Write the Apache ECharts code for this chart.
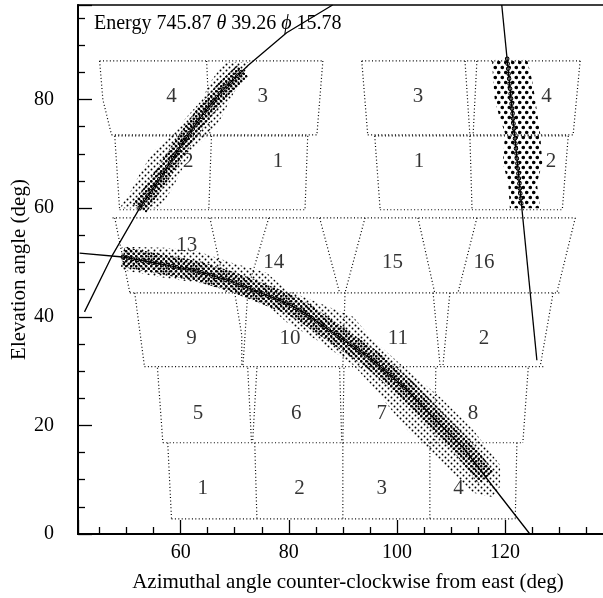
<!DOCTYPE html>
<html><head><meta charset="utf-8">
<script src="https://cdn.jsdelivr.net/npm/echarts@6/dist/echarts.min.js"></script>
<style>html,body{margin:0;padding:0;background:#fff}#c{width:603px;height:598px}</style>
</head><body><div id="c"></div>
<script>
// ---------- data ----------
const titleText = 'Energy 745.87 {i|θ} 39.26 {i|ϕ} 15.78';
const xAxisName = 'Azimuthal angle counter-clockwise from east (deg)';
const yAxisName = 'Elevation angle (deg)';
const xRange = [41, 138.5];
const yRange = [0, 97.4];

// detector cell outlines (dotted polylines), one array per row
const rowA = [
  [[45.0,87.1],[86.3,87.1]], [[47.2,73.5],[85.2,73.5]],
  [[45.0,87.1],[45.6,80.0],[47.2,73.5]], [[64.8,87.1],[65.4,73.5]], [[86.3,87.1],[85.2,73.5]],
  [[93.5,87.1],[133.9,87.1]], [[94.6,73.5],[132.6,73.5]],
  [[93.5,87.1],[94.6,73.5]], [[112.6,87.1],[113.5,73.5]], [[114.8,87.1],[114.1,73.5]], [[133.9,87.1],[132.6,73.5]]
];
const rowB = [
  [[47.8,73.3],[83.5,73.3]], [[48.7,59.7],[83.0,59.7]],
  [[47.8,73.3],[48.7,59.7]], [[65.7,73.3],[65.2,59.7]], [[83.5,73.3],[83.0,59.7]],
  [[95.9,73.3],[131.7,73.3]], [[96.9,59.7],[130.6,59.7]],
  [[95.9,73.3],[96.9,59.7]], [[113.5,73.3],[113.9,59.7]], [[131.7,73.3],[130.6,59.7]]
];
const rowC = [
  [[47.4,58.2],[133.0,58.2]], [[50.6,44.4],[130.2,44.4]],
  [[47.8,58.2],[50.6,44.4]], [[65.4,58.2],[66.9,51.2],[68.5,44.4]],
  [[76.3,58.2],[72.2,44.4]], [[85.7,58.2],[89.4,44.4]],
  [[94.1,58.2],[90.4,44.4]], [[103.9,58.2],[107.0,44.4]],
  [[114.8,58.2],[111.3,44.4]], [[133.0,58.2],[129.6,44.4]]
];
const rowD = [
  [[53.3,30.8],[127.4,30.8]],
  [[51.5,44.4],[53.3,30.8]], [[70.0,44.4],[71.3,36.6],[71.3,30.8]], [[72.4,44.4],[71.9,36.6],[71.5,30.8]],
  [[90.4,44.4],[90.0,30.8]], [[106.7,44.4],[108.0,30.8]], [[109.8,44.4],[108.5,30.8]], [[128.9,44.4],[126.5,30.8]]
];
const rowE = [
  [[56.7,16.8],[123.3,16.8]],
  [[55.7,30.6],[56.7,16.8]], [[72.4,30.6],[73.1,16.8]], [[74.1,30.6],[73.3,16.8]],
  [[89.4,30.6],[89.8,16.8]], [[90.2,30.6],[90.0,16.8]], [[107.2,30.6],[107.0,16.8]], [[124.3,30.6],[123.3,16.8]]
];
const rowF = [
  [[58.3,2.8],[121.9,2.8]],
  [[57.6,16.8],[58.3,2.8]], [[73.7,16.8],[74.1,2.8]], [[90.0,16.8],[90.0,2.8]],
  [[106.1,16.8],[106.1,2.8]], [[122.2,16.8],[121.9,2.8]]
];

// cell numbers [x, y, text]
const cellLabels = [
  [58.3,80.5,'4'],[75.2,80.5,'3'],[103.9,80.5,'3'],[127.7,80.5,'4'],
  [61.4,68.6,'2'],[78.0,68.6,'1'],[104.1,68.6,'1'],[128.5,68.6,'2'],
  [61.1,53.2,'13'],[77.2,50.0,'14'],[99.2,50.0,'15'],[116.1,50.0,'16'],
  [62.0,36.0,'9'],[80.2,36.0,'10'],[100.2,36.0,'11'],[116.1,36.0,'2'],
  [63.2,22.2,'5'],[81.4,22.2,'6'],[97.2,22.2,'7'],[114.1,22.2,'8'],
  [64.1,8.3,'1'],[82.0,8.3,'2'],[97.2,8.3,'3'],[111.4,8.3,'4']
];

// fitted track curves (solid lines)
const curve1 = [[42.2,40.9],[47.4,51.4],[52.4,60.0],[56.5,66.0],[60.4,72.0],[64.1,77.3],[68.0,82.0],[72.5,86.3],[79.6,92.3],[88.1,97.4]];
const curve2 = [[41.3,51.7],[49.3,51.0],[57.4,49.5],[63.5,48.3],[69.6,46.4],[73.3,45.0],[79.6,42.5],[82.6,40.9],[88.9,36.6],[95.6,32.0],[101.9,26.5],[106.7,21.5],[112.2,16.0],[117.8,8.7],[124.6,0]];
const curve3 = [[119.4,97.4],[125.9,32.0]];

// hit-cloud outlines of the three tracks
const bandA = [[48.7,60.0],[50.9,63.4],[52.8,67.0],[55.2,70.7],[58.7,73.8],[61.1,76.8],[63.9,79.9],[65.4,83.1],[68.1,86.9],[72.8,86.9],[70.9,83.1],[69.1,79.9],[67.6,76.8],[65.5,73.8],[62.2,70.7],[60.2,67.0],[58.3,63.4],[56.1,60.0]];
const bandB = [[49.1,52.9],[57.4,52.7],[63.5,51.9],[69.6,49.9],[75.9,48.1],[79.6,44.9],[85.7,42.5],[91.9,40.0],[95.6,35.7],[101.9,30.2],[108.0,25.2],[114.1,19.2],[119.1,12.7],[119.1,8.7],[117.6,6.8],[114.1,7.6],[108.0,13.6],[101.9,19.2],[95.6,27.1],[91.9,31.1],[85.7,35.4],[79.6,39.0],[75.9,42.2],[69.6,44.6],[63.5,46.2],[57.4,47.1],[49.1,48.6]];
const bandC = [[117.6,87.3],[117.8,83.6],[118.1,80.0],[118.9,77.0],[120.0,73.8],[119.6,68.3],[120.6,64.6],[120.9,60.0],[126.5,60.0],[125.9,64.6],[126.9,68.3],[126.5,73.8],[125.6,80.0],[125.0,83.6],[124.1,87.3]];

// dense cores and open-circle chains along the tracks
const coreA = [[52.4,60.0],[56.5,66.0],[60.4,72.0],[64.1,77.3],[68.0,82.0],[71.5,85.3]];
const denseB = [[49.3,51.0],[57.4,49.5],[63.5,48.3],[69.6,46.4],[73.3,45.0],[79.6,42.5],[82.6,40.9],[88.9,36.6],[95.6,32.0],[101.9,26.5],[106.7,21.5],[112.2,16.0],[116.5,10.4]];
const chainB = [[49.3,51.0],[57.4,49.5],[63.5,48.3],[69.6,46.4],[73.3,45.0],[79.6,42.5],[82.6,40.9],[88.9,36.6],[95.6,32.0],[101.9,26.5]];
const coreC = [[120.4,87.5],[123.1,60.0]];

// ---------- rendering ----------
const FONT = '"Liberation Serif", "Times New Roman", serif';
function dotPattern(w, h, r, pts) {
  const c = document.createElement('canvas'); c.width = w; c.height = h;
  const ctx = c.getContext('2d'); ctx.fillStyle = '#000';
  pts.forEach(p => { ctx.beginPath(); ctx.arc(p[0], p[1], r, 0, Math.PI * 2); ctx.fill(); });
  return { image: c, repeat: 'repeat' };
}
const patSmall = dotPattern(6, 6, 0.95, [[1.5,1.5],[4.5,4.5]]);
const patMed = dotPattern(5, 5, 1.3, [[1.25,1.25],[3.75,3.75]]);
const patBig = dotPattern(7, 10, 1.8, [[1.75,2.5],[5.25,7.5]]);

function lineS(points, style, z) {
  return { type: 'line', data: points, symbol: 'none', showSymbol: false, silent: true,
    animation: false, z: z, lineStyle: style, emphasis: { disabled: true } };
}
function polyS(points, fill, z) {
  return { type: 'custom', coordinateSystem: 'cartesian2d', silent: true, animation: false, z: z,
    data: [points[0]],
    renderItem: (params, api) => ({ type: 'polygon',
      shape: { points: points.map(p => api.coord(p)) }, style: { fill: fill, stroke: null } }) };
}
function strokeS(points, stroke, width, z) {
  return { type: 'custom', coordinateSystem: 'cartesian2d', silent: true, animation: false, z: z,
    data: [points[0]],
    renderItem: (params, api) => ({ type: 'polyline',
      shape: { points: points.map(p => api.coord(p)) },
      style: { fill: null, stroke: stroke, lineWidth: width, lineJoin: 'round', lineCap: 'butt' } }) };
}

const series = [];
const dotted = { color: '#000', width: 1.2, type: [1, 2.4] };
[rowA, rowB, rowC, rowD, rowE, rowF].forEach(row => row.forEach(pl => series.push(lineS(pl, dotted, 2))));
series.push(polyS(bandA, patSmall, 3), polyS(bandB, patSmall, 3), polyS(bandC, patBig, 3));
series.push(strokeS(coreA, patMed, 16, 4), strokeS(denseB, patMed, 20, 4));
const ringOuter = { color: '#000', width: 4.6, type: [0.01, 5], cap: 'round' };
const ringInner = { color: '#fff', width: 2.5, type: [0.01, 5], cap: 'round' };
[coreA, chainB, coreC].forEach(c => { series.push(lineS(c, ringOuter, 5)); series.push(lineS(c, ringInner, 6)); });
const solid = { color: '#000', width: 1.3 };
series.push(lineS(curve1, solid, 7), lineS(curve2, solid, 7), lineS(curve3, solid, 7));
series.push({
  type: 'scatter', silent: true, animation: false, z: 8, symbolSize: 1,
  itemStyle: { color: 'rgba(0,0,0,0)' },
  data: cellLabels.map(d => ({ value: [d[0], d[1]], name: d[2] })),
  label: { show: true, position: 'inside', formatter: '{b}', fontFamily: FONT, fontSize: 21, color: '#000' }
});

const tickLine = { color: '#000', width: 1.3 };
const option = {
  backgroundColor: '#fff',
  animation: false,
  title: {
    text: titleText, left: 94, top: 14, padding: 0,
    textStyle: { fontFamily: FONT, fontSize: 20, fontWeight: 'normal', color: '#000',
      rich: { i: { fontFamily: FONT, fontSize: 20, fontStyle: 'italic', color: '#000' } } }
  },
  grid: { left: 78, right: -2, top: 5, bottom: 64, show: true, borderColor: '#000', borderWidth: 1.5,
    backgroundColor: 'transparent', containLabel: false, outerBoundsMode: 'none' },
  xAxis: {
    type: 'value', min: xRange[0], max: xRange[1], minInterval: 20, maxInterval: 20,
    axisLine: { show: true, onZero: false, lineStyle: { color: '#000', width: 2 } },
    axisTick: { show: true, inside: true, length: 14, lineStyle: tickLine },
    minorTick: { show: true, splitNumber: 4, length: 7, lineStyle: tickLine },
    splitLine: { show: false }, minorSplitLine: { show: false },
    axisLabel: { margin: 9, showMinLabel: false, showMaxLabel: false, fontFamily: FONT, fontSize: 20, color: '#000' },
    name: xAxisName, nameLocation: 'middle', nameGap: 38, nameMoveOverlap: false,
    nameTextStyle: { fontFamily: FONT, fontSize: 21, color: '#000', padding: [0, 0, 0, 13] }
  },
  yAxis: {
    type: 'value', min: yRange[0], max: yRange[1], minInterval: 20, maxInterval: 20,
    axisLine: { show: true, onZero: false, lineStyle: { color: '#000', width: 2 } },
    axisTick: { show: true, inside: true, length: 14, lineStyle: tickLine },
    minorTick: { show: true, splitNumber: 4, length: 7, lineStyle: tickLine },
    splitLine: { show: false }, minorSplitLine: { show: false },
    axisLabel: { margin: 24, showMaxLabel: false, fontFamily: FONT, fontSize: 20, color: '#000' },
    name: yAxisName, nameLocation: 'middle', nameGap: 48, nameMoveOverlap: false,
    nameTextStyle: { fontFamily: FONT, fontSize: 21, color: '#000' }
  },
  series: series
};
const chart = echarts.init(document.getElementById('c'), null, { renderer: 'canvas' });
chart.setOption(option);
</script></body></html>
